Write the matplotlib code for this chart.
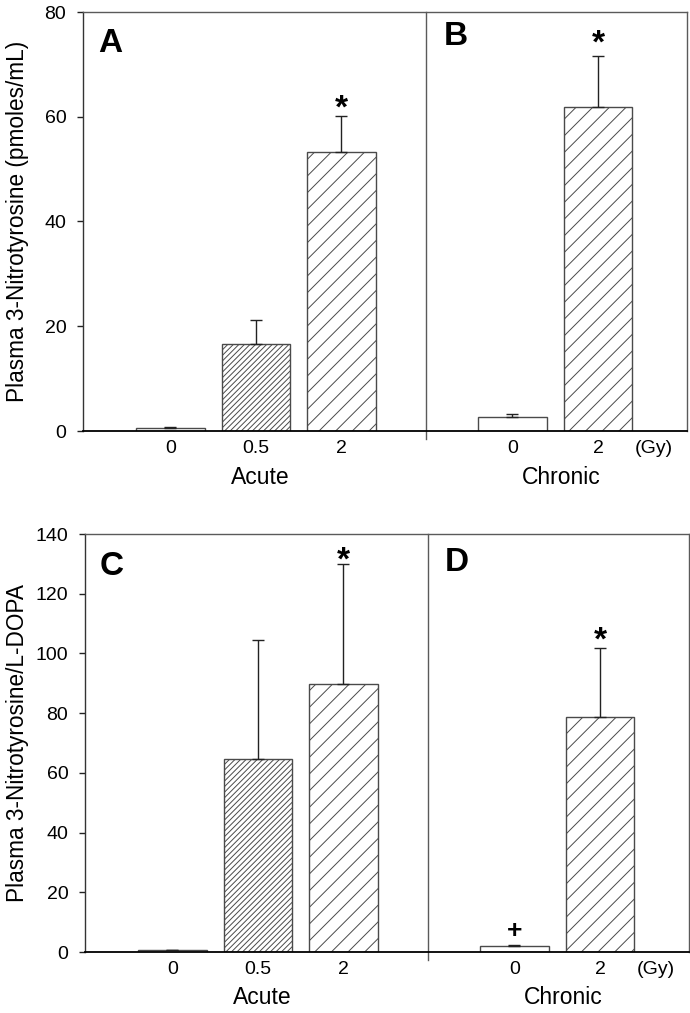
import matplotlib
matplotlib.use("Agg")
import matplotlib.pyplot as plt
from matplotlib import transforms

plt.rcParams['font.family'] = ['Liberation Sans', 'DejaVu Sans']
plt.rcParams['hatch.linewidth'] = 0.7
plt.rcParams['hatch.color'] = '#111111'

# ---- data ----
positions = [1, 2, 3, 5, 6]
tick_labels = ["0", "0.5", "2", "0", "2"]
hatches = ["", "//////", "//", "", "//"]

nitro_mean = [0.55, 16.6, 53.3, 2.7, 61.9]
nitro_err = [0.2, 4.5, 6.9, 0.5, 9.7]

ratio_mean = [0.55, 64.8, 89.9, 2.1, 78.6]
ratio_err = [0.25, 39.7, 40.0, 0.4, 23.2]

panel_a = dict(ylabel="Plasma 3-Nitrotyrosine (pmoles/mL)", ymax=80, step=20,
               letters=[(0.30, 72.4, "A"), (4.34, 73.7, "B")],
               stars=[(3, 63.0), (6, 75.4)], plus=[], left=83)
panel_c = dict(ylabel="Plasma 3-Nitrotyrosine/L-DOPA", ymax=140, step=20,
               letters=[(0.29, 126.3, "C"), (4.33, 127.6, "D")],
               stars=[(3, 133.6), (6, 106.8)], plus=[(5, 7.0)], left=85)

W, H = 690, 1013
fig = plt.figure(figsize=(6.9, 10.13), dpi=100)
ax1 = fig.add_axes([83/W, 1-431/H, 604/W, 419/H])
ax2 = fig.add_axes([85/W, 1-952/H, 604/W, 418/H])

edge = '#4a4a4a'
spine_c = '#5a5a5a'

for ax, means, errs, p in [(ax1, nitro_mean, nitro_err, panel_a),
                           (ax2, ratio_mean, ratio_err, panel_c)]:
    for x, m, e, h in zip(positions, means, errs, hatches):
        ax.bar(x, m, width=0.8, color='white', edgecolor=edge, hatch=h,
               linewidth=1.0, zorder=2)
        ax.errorbar(x, m, yerr=[[0], [e]], fmt='none', ecolor='#222222',
                    elinewidth=1.0, capsize=4.5, capthick=1.0, zorder=3)
    ax.set_xlim(-0.023, 7.041)
    ax.set_ylim(0, p['ymax'])
    ax.set_yticks(range(0, p['ymax'] + 1, p['step']))
    ax.tick_params(axis='y', direction='out', length=4, width=1, color='#222222',
                   labelsize=14, pad=8)
    ax.set_xticks([])
    for s in ['top', 'right']:
        ax.spines[s].set_color(spine_c)
        ax.spines[s].set_linewidth(1.0)
    ax.spines['left'].set_color('#333333')
    ax.spines['left'].set_linewidth(1.0)
    ax.spines['bottom'].set_color('black')
    ax.spines['bottom'].set_linewidth(1.3)
    ax.axvline(3.99, ymin=-0.018, ymax=1, color=spine_c, linewidth=1.0, clip_on=False)

    trans = transforms.blended_transform_factory(ax.transData, ax.transAxes)
    for x, lab in zip(positions, tick_labels):
        ax.text(x, -0.042, lab, transform=trans, ha='center', va='center', fontsize=14)
    ax.text(6.655, -0.042, "(Gy)", transform=trans, ha='center', va='center', fontsize=14)
    ax.text(2.05, -0.110, "Acute", transform=trans, ha='center', va='center', fontsize=16.5)
    ax.text(5.57, -0.110, "Chronic", transform=trans, ha='center', va='center', fontsize=16.5)

    ax.set_ylabel(p['ylabel'], fontsize=16.3)
    ax.yaxis.set_label_coords((29 - p['left']) / 604, 0.5)

    for x, y, s in p['letters']:
        ax.text(x, y, s, ha='center', va='baseline', fontsize=24, fontweight='bold')
    star_tr = transforms.offset_copy(ax.transData, fig=fig, x=0, y=-8, units='dots')
    for x, y in p['stars']:
        ax.text(x, y, "*", transform=star_tr, ha='center', va='center',
                fontsize=24, fontweight='bold')
    for x, y in p['plus']:
        ax.text(x, y, "+", ha='center', va='center', fontsize=19, fontweight='bold')

fig.savefig("out.png", dpi=100)
